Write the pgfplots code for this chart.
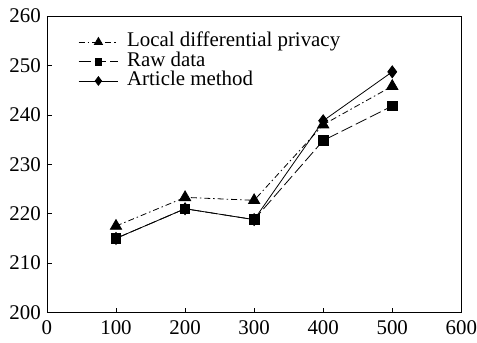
\documentclass[border=0pt]{standalone}
\usepackage{fontspec}
\setmainfont{Liberation Serif}
\usepackage{pgfplots}
\pgfplotsset{compat=1.18}
\begin{document}
\fontsize{21}{23}\selectfont
\begin{tikzpicture}
\begin{axis}[
  scale only axis,
  clip=false,
  width=415bp, height=297bp,
  xmin=0, xmax=600, ymin=200, ymax=260,
  xtick={0,100,...,600}, ytick={200,210,...,260},
  tick align=inside,
  xtick pos=bottom, ytick pos=left,
  major tick length=5bp,
  tick style={black, line width=0.6pt},
  axis line style={black, line width=0.7pt},
  /pgf/number format/assume math mode=true,
  tick label style={font=\fontsize{21}{23}\selectfont, inner sep=0pt},
  xticklabel style={yshift=-8bp},
  yticklabel style={xshift=-6bp},
  legend style={draw=none, fill=none, at={(0.075,0.945)}, anchor=north west,
    font=\fontsize{21}{23}\selectfont, row sep=0pt, column sep=8bp, inner sep=0pt,
    nodes={inner sep=0.5pt, text height=14pt, text depth=4.5pt}},
  legend cell align=left,
  legend image code/.code={\draw[#1] (0cm,0cm) -- (1.4cm,0cm); \draw[#1, solid, every mark/.append style={scale=0.72}] plot coordinates {(0.7cm,0cm)};},
  every axis plot/.append style={line width=0.8pt, black},
]
\addplot[dash pattern=on 6pt off 3pt on 1.5pt off 3pt, mark=triangle*, mark size=6.5pt, mark options={solid}]
  coordinates {(100,217.5) (200,223.3) (300,222.7) (400,238) (500,245.8)};
\addlegendentry{Local differential privacy}
\addplot[dash pattern=on 12pt off 4pt, mark=square*, mark size=4.8pt, mark options={solid}]
  coordinates {(100,215) (200,221) (300,218.8) (400,234.8) (500,241.8)};
\addlegendentry{Raw data}
\addplot[solid, mark=diamond*, mark size=6pt]
  coordinates {(100,215) (200,221) (300,218.8) (400,238.8) (500,248.7)};
\addlegendentry{Article method}
\path (rel axis cs:0,1) ++(-47bp,16bp) coordinate (tl);
\path (rel axis cs:0,0) ++(-47bp,-30bp) coordinate (bl);
\path (tl) -- (bl);
\end{axis}
\end{tikzpicture}
\end{document}
